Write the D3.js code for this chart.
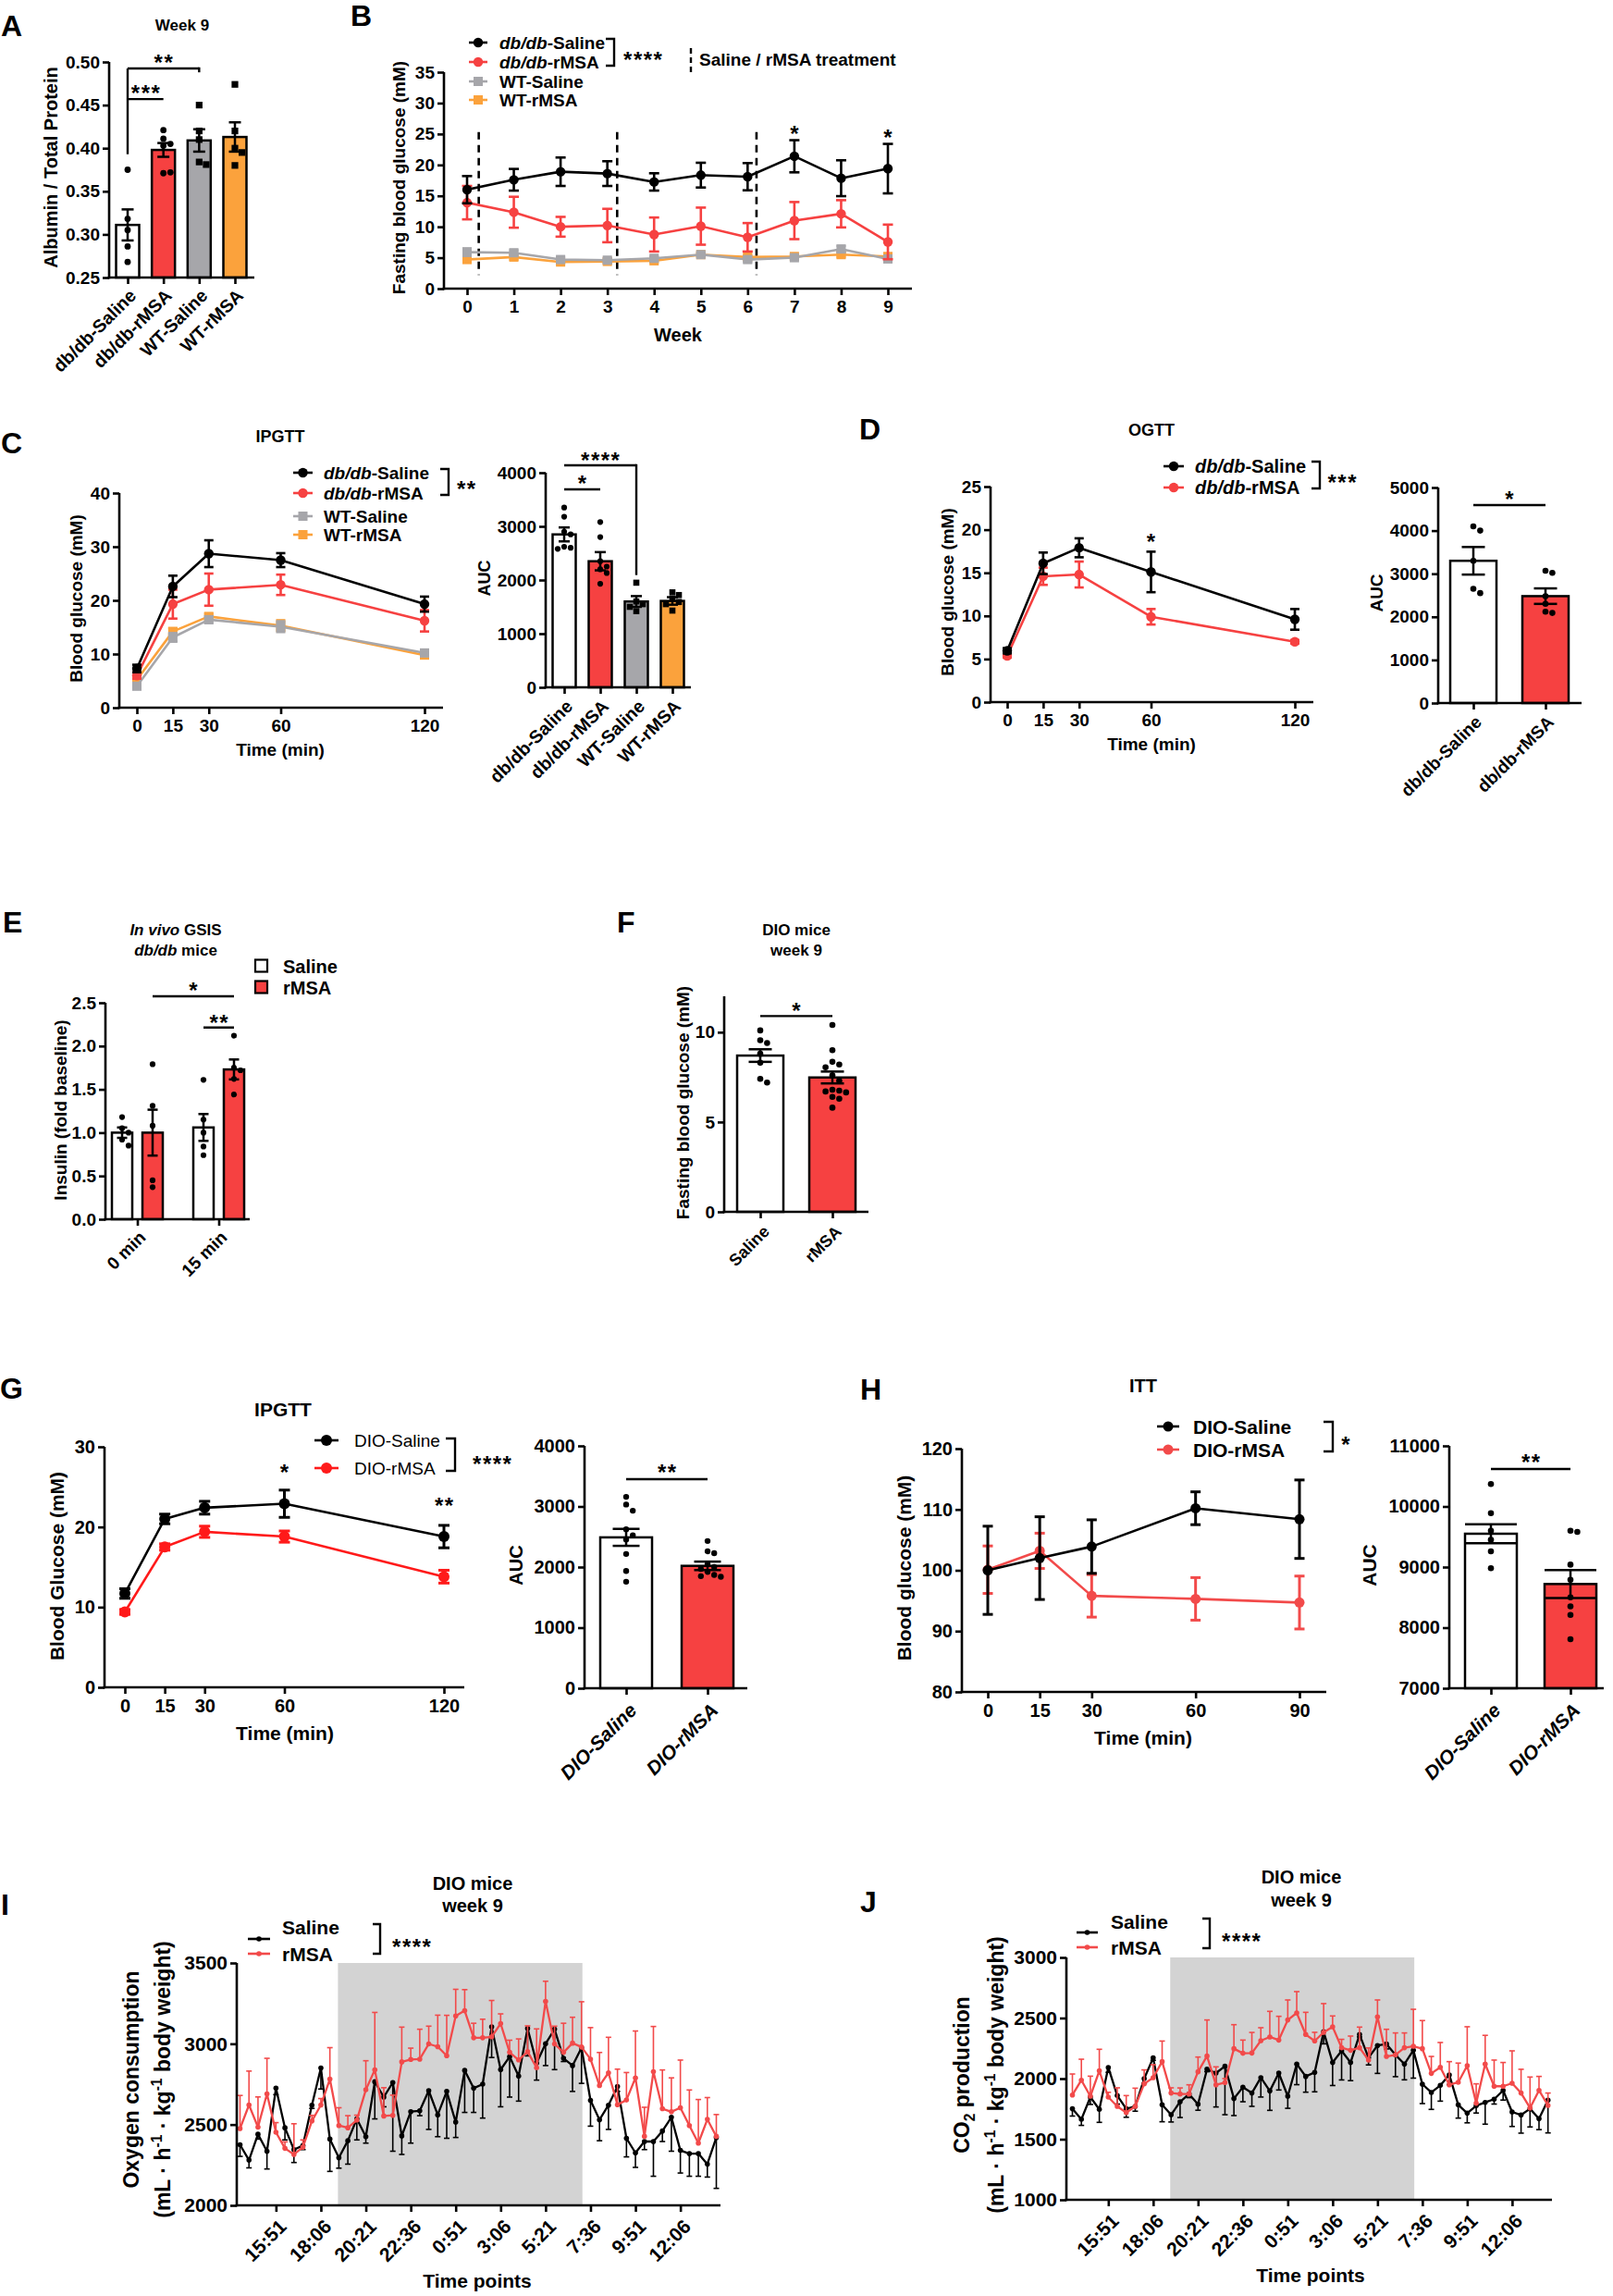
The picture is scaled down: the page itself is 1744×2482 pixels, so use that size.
<!DOCTYPE html>
<html><head><meta charset="utf-8"><title>Figure</title>
<script src="https://cdn.jsdelivr.net/npm/d3@7/dist/d3.min.js"></script>
<style>html,body{margin:0;padding:0;background:#fff}svg{display:block}</style>
</head><body>
<script>
// ================= DATA =================
// Panel A
const A_cats = ["db/db-Saline","db/db-rMSA","WT-Saline","WT-rMSA"];
const A_mean = [0.311,0.398,0.409,0.413];
const A_sem  = [0.018,0.008,0.013,0.017];
const A_pts  = [[0.375,0.318,0.305,0.286,0.268],[0.421,0.411,0.405,0.403,0.371,0.372],[0.450,0.420,0.410,0.384,0.381],[0.474,0.420,0.400,0.395,0.380]];
const A_yticks = [0.25,0.30,0.35,0.40,0.45,0.50];
// Panel B
const B_weeks = [0,1,2,3,4,5,6,7,8,9];
const B_dbSal = [16.0,17.6,18.9,18.6,17.25,18.35,18.1,21.4,17.85,19.4];
const B_dbSal_err = [2.2,1.75,2.3,2.0,1.4,2.0,2.2,2.6,2.9,4.0];
const B_dbRm = [13.9,12.35,10.0,10.2,8.75,10.1,8.3,11.0,12.1,7.55];
const B_dbRm_err = [2.7,2.5,1.6,2.7,2.75,3.0,2.3,3.0,2.2,2.8];
const B_wtSal = [5.9,5.8,4.7,4.6,4.9,5.5,4.7,5.0,6.4,4.8];
const B_wtSal_err = [0.6,0.4,0.4,0.3,0.3,0.3,0.4,0.3,0.5,0.3];
const B_wtRm = [4.7,5.1,4.3,4.4,4.5,5.5,5.1,5.2,5.5,5.2];
const B_wtRm_err = [0.4,0.4,0.3,0.3,0.3,0.3,0.3,0.3,0.4,0.3];
const B_treat = [0.25,3.21,6.19];
const B_yticks = [0,5,10,15,20,25,30,35];
// Panel C
const C_t = [0,15,30,60,120];
const C_dbSal = [7.3,22.6,28.7,27.5,19.3], C_dbSal_err = [0.7,2.0,2.5,1.3,1.4];
const C_dbRm = [6.0,19.3,22.0,22.9,16.2], C_dbRm_err = [0.6,2.7,3.0,1.9,2.0];
const C_wtSal = [4.0,13.1,16.4,15.1,10.2], C_wtSal_err = [0.5,0.8,0.6,1.0,0.4];
const C_wtRm = [5.2,14.2,17.0,15.3,9.8], C_wtRm_err = [0.4,0.6,0.5,1.0,0.3];
const C_auc_mean = [2850,2350,1600,1610];
const C_auc_sem = [130,170,100,70];
const C_auc_pts = [[3350,3180,2900,2850,2620,2600,2580],[3080,2800,2350,2250,2200,2130,1930],[1950,1600,1550,1500,1420],[1770,1720,1650,1590,1550,1430]];
// Panel D
const D_t = [0,15,30,60,120];
const D_dbSal = [5.96,16.1,17.9,15.1,9.6], D_dbSal_err = [0.3,1.25,1.1,2.35,1.2];
const D_dbRm = [5.36,14.6,14.8,9.9,7.0], D_dbRm_err = [0.2,1.0,1.5,0.9,0.2];
const D_auc_cats = ["db/db-Saline","db/db-rMSA"];
const D_auc_mean = [3300,2480], D_auc_sem = [320,180];
const D_auc_pts = [[4100,4000,3300,2650,2550],[3070,3020,2480,2300,2120,2090]];
// Panel E
const E_groups = ["0 min","15 min"];
const E_series = ["Saline","rMSA"];
const E_mean = [[1.0,1.0],[1.06,1.73]];
const E_sem = [[0.06,0.265],[0.155,0.115]];
const E_pts = [[[1.18,1.05,1.0,0.92,0.85],[1.79,1.31,1.08,0.45,0.37]],[[1.61,1.15,1.0,0.84,0.74],[2.12,1.75,1.72,1.62,1.44]]];
// Panel F
const F_cats = ["Saline","rMSA"];
const F_mean = [8.7,7.48], F_sem = [0.35,0.33];
const F_pts = [[10.1,9.55,9.4,8.8,8.3,7.4,7.2],[10.4,9.0,8.35,8.2,8.05,7.6,7.3,6.8,6.75,6.7,6.65,6.4,6.3,5.8]];
// Panel G
const G_t = [0,15,30,60,120];
const G_sal = [11.7,21.0,22.4,22.9,18.8], G_sal_err = [0.6,0.6,0.8,1.7,1.4];
const G_rm = [9.4,17.5,19.4,18.8,13.8], G_rm_err = [0.3,0.4,0.7,0.7,0.8];
const G_auc_cats = ["DIO-Saline","DIO-rMSA"];
const G_auc_mean = [2490,2020], G_auc_sem = [140,70];
const G_auc_pts = [[3159,3032,2930,2624,2522,2456,2216,1936,1758],[2430,2260,2230,2050,2000,1970,1920,1870,1850,1840]];
// Panel H
const H_t = [0,15,30,60,90];
const H_sal = [100,102.0,103.9,110.2,108.4], H_sal_err = [7.25,6.8,4.4,2.7,6.45];
const H_rm = [100.1,103.2,95.8,95.3,94.7], H_rm_err = [3.9,2.9,3.5,3.5,4.35];
const H_auc_mean = [9550,8720], H_auc_sem = [155,230];
const H_auc_pts = [[10370,9890,9600,9450,9260,8980],[9600,9580,9040,8790,8500,8350,8210,7810]];
// Panels I & J (54 time points, 27 min apart)
const IJ_tickIdx = [4,9,14,19,24,29,34,39,44,49];
const IJ_tickLab = ["15:51","18:06","20:21","22:36","0:51","3:06","5:21","7:36","9:51","12:06"];
const IJ_dark = [10.9,38.1];
const I_sal = [2375,2280,2440,2335,2725,2480,2345,2370,2620,2850,2410,2295,2400,2535,2425,2765,2670,2760,2430,2580,2585,2710,2560,2705,2515,2835,2725,2750,3105,2840,2920,2800,3095,2880,3000,3090,2910,2865,2975,2650,2530,2620,2735,2415,2325,2395,2395,2460,2545,2340,2320,2320,2255,2420];
const I_sal_err = [72,48,30,110,40,75,80,25,20,130,200,65,145,130,40,230,60,425,115,195,30,240,135,290,95,260,150,210,190,230,250,155,170,105,135,250,20,160,220,160,130,150,30,115,90,50,215,65,210,140,140,140,80,315];
const I_rm = [2475,2621,2484,2690,2452,2353,2315,2360,2522,2621,2781,2494,2480,2528,2715,2839,2553,2557,2888,2903,2905,2999,2982,2926,3172,3205,3037,3037,3043,3125,2947,2900,2951,2852,3262,2999,2947,3004,2980,2905,2741,2820,2623,2652,2789,2427,2827,2598,2579,2604,2494,2385,2532,2427];
const I_rm_err = [205,210,187,220,60,40,190,45,35,40,195,110,75,30,180,355,175,125,215,70,185,110,195,250,165,130,90,115,225,60,75,130,160,240,125,110,180,160,280,195,205,220,220,170,290,180,280,240,210,295,220,270,135,135];
const J_sal = [1751,1664,1847,1746,2092,1860,1751,1771,2000,2171,1784,1702,1809,1873,1789,2077,2046,2102,1835,1929,1881,2008,1898,2046,1855,2120,2018,2051,2387,2133,2229,2133,2364,2173,2273,2285,2196,2120,2234,1954,1886,1944,2031,1784,1715,1776,1804,1830,1903,1725,1700,1751,1669,1822];
const J_sal_err = [60,50,60,107,40,70,70,40,40,20,140,60,130,30,50,20,280,400,140,120,110,160,160,140,100,170,130,160,100,190,240,150,20,60,230,40,180,130,230,160,140,130,80,110,80,60,180,40,80,120,150,150,90,270];
const J_rm = [1865,1987,1855,2064,1847,1771,1720,1771,1957,2008,2140,1881,1873,1873,2056,2186,1949,1967,2247,2209,2211,2313,2344,2318,2484,2542,2364,2311,2382,2428,2255,2234,2255,2153,2509,2183,2196,2255,2267,2247,2043,2094,1949,1970,2107,1797,2120,1937,1937,1962,1881,1758,1903,1779];
const J_rm_err = [173,173,165,178,40,153,140,150,115,107,170,43,50,76,122,298,148,33,198,109,170,107,211,196,165,176,183,71,237,89,69,117,170,100,140,224,181,122,305,232,140,204,191,158,321,160,237,216,196,267,196,255,115,102];

// ================= STYLE / LAYOUT =================
const FONT = "'Liberation Sans', Arial, Helvetica, sans-serif";
const RED = "#F64141", GRAY = "#A6A6AA", ORANGE = "#FBA23C", REDG = "#FF1A1A", REDL = "#F24A4A", SHADE = "#D3D3D3";
const AXW = 2.6;

const svg = d3.select("body").append("svg").attr("width",1744).attr("height",2482)
  .attr("font-family",FONT).style("background","#fff");

function T(x,y,str,fs,o={}){
  const t = svg.append("text").attr("x",x).attr("y",y).attr("font-size",fs)
    .attr("font-weight",o.w||"bold").attr("text-anchor",o.a||"start").attr("fill","#000");
  if(o.it) t.attr("font-style","italic");
  if(o.ls) t.attr("letter-spacing",o.ls);
  t.text(str); return t;
}
function R(x,y,parts,fs,o={}){
  const t = svg.append("text").attr("x",x).attr("y",y).attr("font-size",fs)
    .attr("font-weight",o.w||"bold").attr("text-anchor",o.a||"start").attr("fill","#000");
  if(o.rot) t.attr("transform",`rotate(${o.rot},${x},${y})`);
  let shift = 0;
  parts.forEach(p=>{
    const s = t.append("tspan").text(p.t);
    const target = p.sup ? -0.42*fs : (p.sub ? 0.25*fs : 0);
    if(target!==shift){ s.attr("dy",target-shift); shift=target; }
    if(p.sup||p.sub) s.attr("font-size",fs*0.68);
    if(p.i) s.attr("font-style","italic");
  });
  return t;
}
function yLab(cx,cy,parts,fs){ return R(cx+0.36*fs,cy,parts,fs,{a:"middle",rot:-90}); }
function stars(cx,cy,str,fs=24){ return T(cx+0.75,cy+0.6*fs,str,fs,{a:"middle",ls:1.5}); }
function panelLabel(x,y,s){ T(x,y,s,32); }
function styleAxis(g,fs,w){
  g.attr("font-family",FONT).attr("font-size",fs).attr("font-weight",w||"bold");
  g.select(".domain").attr("stroke","#000").attr("stroke-width",AXW);
  g.selectAll(".tick line").attr("stroke","#000").attr("stroke-width",AXW);
  g.selectAll(".tick text").attr("fill","#000");
}
function yAxis(x0,y,ticks,fmt,fs){
  const g = svg.append("g").attr("transform",`translate(${x0},0)`)
    .call(d3.axisLeft(y).tickValues(ticks).tickFormat(fmt).tickSize(7).tickSizeOuter(0).tickPadding(3));
  styleAxis(g,fs);
  g.select(".domain").attr("d",`M0,${y.range()[0]+AXW/2}V${y.range()[1]}`);
  return g;
}
function xLine(x0,x1,yb){
  svg.append("line").attr("x1",x0-AXW/2).attr("x2",x1).attr("y1",yb).attr("y2",yb)
    .attr("stroke","#000").attr("stroke-width",AXW);
}
function xTicks(yb,x,ticks,fmt,fs,pad){
  const g = svg.append("g").attr("transform",`translate(0,${yb})`)
    .call(d3.axisBottom(x).tickValues(ticks).tickFormat(fmt).tickSize(7).tickSizeOuter(0).tickPadding(pad));
  styleAxis(g,fs); g.select(".domain").remove(); return g;
}
function rotTicks(yb,x,ticks,fmt,fs,off,italic){
  const g = xTicks(yb,x,ticks,fmt,fs,0);
  g.selectAll(".tick text").attr("x",0).attr("y",0).attr("dy","0.35em").attr("text-anchor","end")
    .attr("transform",`translate(${off[0]},${off[1]}) rotate(-45)`);
  if(italic) g.selectAll(".tick text").attr("font-style","italic");
  return g;
}
function bracket(x,y1,y2,w){
  svg.append("path").attr("d",`M${x-w},${y1}H${x}V${y2}H${x-w}`).attr("fill","none")
    .attr("stroke","#000").attr("stroke-width",2.4);
}
function hline(x1,x2,y){
  svg.append("line").attr("x1",x1).attr("x2",x2).attr("y1",y).attr("y2",y).attr("stroke","#000").attr("stroke-width",2.4);
}
function vline(x,y1,y2){
  svg.append("line").attr("x1",x).attr("x2",x).attr("y1",y1).attr("y2",y2).attr("stroke","#000").attr("stroke-width",2.4);
}
function swarm(vals,y,r){
  const placed=[]; const step=2*r+0.8;
  return vals.map(v=>{
    const py=y(v); let off=0;
    for(let k=0;k<40;k++){
      const o = k===0?0:(k%2?1:-1)*Math.ceil(k/2)*step;
      if(placed.every(p=>Math.hypot(p.x-o,p.y-py)>=2*r+0.4)){off=o;break;}
    }
    placed.push({x:off,y:py}); return off;
  });
}
function marker(g,cx,cy,shape,r,color){
  if(shape==="sq") g.append("rect").attr("x",cx-r).attr("y",cy-r).attr("width",2*r).attr("height",2*r).attr("fill",color);
  else g.append("circle").attr("cx",cx).attr("cy",cy).attr("r",r).attr("fill",color);
}
// bars with points & error bars
function drawBars(xc,y,base,means,sems,fills,pts,shapes,bw,cap,r){
  const g = svg.append("g");
  g.selectAll("rect.bar").data(means).join("rect").attr("class","bar")
    .attr("x",(m,i)=>xc[i]-bw/2).attr("y",m=>y(m)).attr("width",bw).attr("height",m=>y(base)-y(m))
    .attr("fill",(m,i)=>fills[i]).attr("stroke","#000").attr("stroke-width",2.5);
  means.forEach((m,i)=>{
    const offs = swarm(pts[i],y,r);
    const pg = svg.append("g");
    pts[i].forEach((v,j)=>marker(pg,xc[i]+offs[j],y(v),shapes[i],shapes[i]==="sq"?r+0.2:r,"#000"));
    const eg = svg.append("g").attr("stroke","#000").attr("stroke-width",2.5);
    eg.append("line").attr("x1",xc[i]).attr("x2",xc[i]).attr("y1",y(m-sems[i])).attr("y2",y(m+sems[i]));
    [m-sems[i],m+sems[i]].forEach(v=>eg.append("line").attr("x1",xc[i]-cap/2).attr("x2",xc[i]+cap/2).attr("y1",y(v)).attr("y2",y(v)));
  });
}
// line series
function drawSeries(x,y,xs,ys,errs,o){
  const g = svg.append("g");
  const eg = g.append("g").attr("stroke",o.color).attr("stroke-width",o.ew||2.6);
  ys.forEach((v,i)=>{
    const lo = o.mode==="up"? v : v-errs[i];
    const hi = o.mode==="down"? v : v+errs[i];
    eg.append("line").attr("x1",x(xs[i])).attr("x2",x(xs[i])).attr("y1",y(lo)).attr("y2",y(hi));
    const capv = o.mode==="up"?[hi]:(o.mode==="down"?[lo]:[lo,hi]);
    capv.forEach(c=>eg.append("line").attr("x1",x(xs[i])-o.cap/2).attr("x2",x(xs[i])+o.cap/2).attr("y1",y(c)).attr("y2",y(c)));
  });
  g.append("path").datum(ys).attr("fill","none").attr("stroke",o.color).attr("stroke-width",o.lw||2.6)
    .attr("stroke-linejoin","round")
    .attr("d",d3.line().x((d,i)=>x(xs[i])).y(d=>y(d)));
  const mg = g.append("g");
  ys.forEach((v,i)=>marker(mg,x(xs[i]),y(v),o.shape,o.r,o.color));
}
function legendRow(xl0,xl1,y,color,shape,r,tx,parts,fs,w,ty){
  svg.append("line").attr("x1",xl0).attr("x2",xl1).attr("y1",y).attr("y2",y).attr("stroke",color).attr("stroke-width",2.6);
  marker(svg,(xl0+xl1)/2,y,shape,r,color);
  R(tx,(ty!==undefined?ty:y)+0.36*fs,parts,fs,{w:w});
}

// ================= PANEL A =================
{
  const f={x0:118,x1:275,yT:67,yB:300};
  panelLabel(1,39,"A");
  T(197,33,"Week 9",17,{a:"middle"});
  const y=d3.scaleLinear().domain([0.25,0.50]).range([f.yB,f.yT]);
  const x=d3.scalePoint().domain(A_cats).range([138,254]);
  drawBars(A_cats.map(x),y,0.25,A_mean,A_sem,["#fff",RED,GRAY,ORANGE],A_pts,["c","c","sq","sq"],25,13,3.4);
  yAxis(f.x0,y,A_yticks,d3.format(".2f"),19);
  xLine(f.x0,f.x1,f.yB);
  rotTicks(f.yB,x,A_cats,d=>d,19.5,[5,16]);
  yLab(55,181,[{t:"Albumin / Total Protein"}],20);
  vline(x(A_cats[0]),y(0.4925),y(0.393));
  hline(x(A_cats[0]),x(A_cats[2]),y(0.4925));
  vline(x(A_cats[2]),y(0.4925)-1.2,y(0.488));
  hline(x(A_cats[0]),x(A_cats[1]),y(0.457));
  stars((x(A_cats[0])+x(A_cats[2]))/2,y(0.4925)-12,"**");
  stars((x(A_cats[0])+x(A_cats[1]))/2,y(0.457)-12,"***");
}

// ================= PANEL B =================
{
  const f={x0:480,x1:986,yT:78,yB:312};
  panelLabel(379,28,"B");
  const y=d3.scaleLinear().domain([0,35]).range([f.yB,f.yT]);
  const x=d3.scaleLinear().domain([0,9]).range([505,960]);
  B_treat.forEach(w=>svg.append("line").attr("x1",x(w)).attr("x2",x(w)).attr("y1",y(25.3)).attr("y2",y(2.2))
    .attr("stroke","#000").attr("stroke-width",2.6).attr("stroke-dasharray","8,6"));
  drawSeries(x,y,B_weeks,B_wtRm,B_wtRm_err,{color:ORANGE,shape:"sq",r:5,cap:10,mode:"both"});
  drawSeries(x,y,B_weeks,B_wtSal,B_wtSal_err,{color:GRAY,shape:"sq",r:5,cap:10,mode:"both"});
  drawSeries(x,y,B_weeks,B_dbRm,B_dbRm_err,{color:RED,shape:"c",r:5.2,cap:11,mode:"both"});
  drawSeries(x,y,B_weeks,B_dbSal,B_dbSal_err,{color:"#000",shape:"c",r:5.2,cap:11,mode:"both"});
  yAxis(f.x0,y,B_yticks,d3.format("d"),19);
  xLine(f.x0,f.x1,f.yB);
  xTicks(f.yB,x,B_weeks,d3.format("d"),19,6);
  T(733,369,"Week",20,{a:"middle"});
  yLab(431,192,[{t:"Fasting blood glucose (mM)"}],19);
  stars(x(7),y(26),"*");
  stars(x(9),y(25.3),"*");
  legendRow(507,527,46,"#000","c",5.2,540,[{t:"db/db",i:1},{t:"-Saline"}],19);
  legendRow(507,527,67,RED,"c",5.2,540,[{t:"db/db",i:1},{t:"-rMSA"}],19);
  legendRow(507,527,88,GRAY,"sq",5,540,[{t:"WT-Saline"}],19);
  legendRow(507,527,108,ORANGE,"sq",5,540,[{t:"WT-rMSA"}],19);
  bracket(664,42,71,9);
  stars(695,59,"****");
  svg.append("line").attr("x1",747).attr("x2",747).attr("y1",52).attr("y2",82).attr("stroke","#000").attr("stroke-width",2.4).attr("stroke-dasharray","6,4");
  T(756,71,"Saline / rMSA treatment",19);
}

// ================= PANEL C =================
{
  const f={x0:129,x1:479,yT:533,yB:765};
  panelLabel(1,490,"C");
  T(303,478,"IPGTT",18,{a:"middle"});
  const y=d3.scaleLinear().domain([0,40]).range([f.yB,f.yT]);
  const x=d3.scaleLinear().domain([0,120]).range([148,459]);
  drawSeries(x,y,C_t,C_wtRm,C_wtRm_err,{color:ORANGE,shape:"sq",r:5,cap:10,mode:"both"});
  drawSeries(x,y,C_t,C_wtSal,C_wtSal_err,{color:GRAY,shape:"sq",r:5,cap:10,mode:"both"});
  drawSeries(x,y,C_t,C_dbRm,C_dbRm_err,{color:RED,shape:"c",r:5.2,cap:10,mode:"both"});
  drawSeries(x,y,C_t,C_dbSal,C_dbSal_err,{color:"#000",shape:"c",r:5.2,cap:10,mode:"both"});
  yAxis(f.x0,y,[0,10,20,30,40],d3.format("d"),19);
  xLine(f.x0,f.x1,f.yB);
  xTicks(f.yB,x,C_t,d3.format("d"),19,6);
  T(303,817,"Time (min)",19,{a:"middle"});
  yLab(82,647,[{t:"Blood glucose (mM)"}],19);
  const rows=[511,533,558,578];
  legendRow(317,338,rows[0],"#000","c",5.2,350,[{t:"db/db",i:1},{t:"-Saline"}],19);
  legendRow(317,338,rows[1],RED,"c",5.2,350,[{t:"db/db",i:1},{t:"-rMSA"}],19);
  legendRow(317,338,rows[2],GRAY,"sq",5,350,[{t:"WT-Saline"}],19);
  legendRow(317,338,rows[3],ORANGE,"sq",5,350,[{t:"WT-rMSA"}],19);
  bracket(485,507,535,9);
  stars(504,523,"**");
}
// ----- C AUC -----
{
  const f={x0:590,x1:747,yT:511,yB:743};
  const y=d3.scaleLinear().domain([0,4000]).range([f.yB,f.yT]);
  const x=d3.scalePoint().domain(A_cats).range([610,727]);
  drawBars(A_cats.map(x),y,0,C_auc_mean,C_auc_sem,["#fff",RED,GRAY,ORANGE],C_auc_pts,["c","c","sq","sq"],25,12,3.1);
  yAxis(f.x0,y,[0,1000,2000,3000,4000],d3.format("d"),19);
  xLine(f.x0,f.x1,f.yB);
  rotTicks(f.yB,x,A_cats,d=>d,19.5,[5,17]);
  yLab(524,625,[{t:"AUC"}],18);
  hline(x(A_cats[0]),x(A_cats[1]),y(3690));
  stars((x(A_cats[0])+x(A_cats[1]))/2,y(3690)-12,"*");
  hline(x(A_cats[0]),x(A_cats[2]),y(4138));
  vline(x(A_cats[2]),y(4138)-1.2,y(2092));
  stars((x(A_cats[0])+x(A_cats[2]))/2,y(4138)-11,"****");
}

// ================= PANEL D =================
{
  const f={x0:1071,x1:1420,yT:526,yB:759};
  panelLabel(929,475,"D");
  T(1245,471,"OGTT",18,{a:"middle"});
  const y=d3.scaleLinear().domain([0,25]).range([f.yB,f.yT]);
  const x=d3.scaleLinear().domain([0,120]).range([1089,1400]);
  drawSeries(x,y,D_t,D_dbRm,D_dbRm_err,{color:RED,shape:"c",r:5.2,cap:10,mode:"both"});
  drawSeries(x,y,D_t,D_dbSal,D_dbSal_err,{color:"#000",shape:"c",r:5.2,cap:10,mode:"both"});
  yAxis(f.x0,y,[0,5,10,15,20,25],d3.format("d"),19);
  xLine(f.x0,f.x1,f.yB);
  xTicks(f.yB,x,D_t,d3.format("d"),19,6);
  T(1245,811,"Time (min)",19,{a:"middle"});
  yLab(1024,640,[{t:"Blood glucose (mM)"}],19);
  stars(x(60),y(19.3),"*");
  legendRow(1258,1280,504,"#000","c",5.2,1292,[{t:"db/db",i:1},{t:"-Saline"}],20);
  legendRow(1258,1280,527,RED,"c",5.2,1292,[{t:"db/db",i:1},{t:"-rMSA"}],20);
  bracket(1427,499,528,9);
  stars(1451,516,"***");
}
// ----- D AUC -----
{
  const f={x0:1555,x1:1710,yT:527,yB:760};
  const y=d3.scaleLinear().domain([0,5000]).range([f.yB,f.yT]);
  const x=d3.scalePoint().domain(D_auc_cats).range([1593,1671]);
  drawBars(D_auc_cats.map(x),y,0,D_auc_mean,D_auc_sem,["#fff",RED],D_auc_pts,["c","c"],50,25,3.3);
  yAxis(f.x0,y,[0,1000,2000,3000,4000,5000],d3.format("d"),19);
  xLine(f.x0,f.x1,f.yB);
  rotTicks(f.yB,x,D_auc_cats,d=>d,19,[5,17]);
  yLab(1488,641,[{t:"AUC"}],19);
  hline(x(D_auc_cats[0]),x(D_auc_cats[1]),y(4592));
  stars((x(D_auc_cats[0])+x(D_auc_cats[1]))/2,y(4592)-12,"*");
}

// ================= PANEL E =================
{
  const f={x0:114,x1:270,yT:1084,yB:1318};
  panelLabel(3,1008,"E");
  R(190,1011,[{t:"In vivo",i:1},{t:" GSIS"}],17,{a:"middle"});
  R(190,1033,[{t:"db/db",i:1},{t:" mice"}],17,{a:"middle"});
  const y=d3.scaleLinear().domain([0,2.5]).range([f.yB,f.yT]);
  const xg=d3.scalePoint().domain(E_groups).range([148.5,236.5]);
  const xi=d3.scalePoint().domain(E_series).range([-16.5,16.5]);
  const xc=[], means=[], sems=[], pts=[], fills=[];
  E_groups.forEach((gname,gi)=>E_series.forEach((s,si)=>{
    xc.push(xg(gname)+xi(s)); means.push(E_mean[gi][si]); sems.push(E_sem[gi][si]); pts.push(E_pts[gi][si]); fills.push(si?RED:"#fff");
  }));
  drawBars(xc,y,0,means,sems,fills,pts,["c","c","c","c"],22,11,3.1);
  yAxis(f.x0,y,[0,0.5,1.0,1.5,2.0,2.5],d3.format(".1f"),19);
  xLine(f.x0,f.x1,f.yB);
  rotTicks(f.yB,xg,E_groups,d=>d,19,[5,16]);
  yLab(65,1200,[{t:"Insulin (fold baseline)"}],19);
  hline(xg("0 min")+xi("rMSA"),xg("15 min")+xi("rMSA"),y(2.575));
  stars((xg("0 min")+xg("15 min"))/2+xi("rMSA"),y(2.575)-12,"*");
  hline(xg("15 min")+xi("Saline"),xg("15 min")+xi("rMSA"),y(2.215));
  stars(xg("15 min"),y(2.215)-11,"**");
  [["Saline","#fff",1044],["rMSA",RED,1067]].forEach(d=>{
    svg.append("rect").attr("x",276).attr("y",d[2]-6.5).attr("width",13).attr("height",13).attr("fill",d[1]).attr("stroke","#000").attr("stroke-width",2.2);
    T(306,d[2]+7.5,d[0],20);
  });
}

// ================= PANEL F =================
{
  const f={x0:783,x1:939,yT:1077,yB:1310};
  panelLabel(667,1008,"F");
  T(861,1011,"DIO mice",17,{a:"middle"});
  T(861,1033,"week 9",17,{a:"middle"});
  const y=d3.scaleLinear().domain([0,12]).range([f.yB,f.yT]);
  const x=d3.scalePoint().domain(F_cats).range([822,900]);
  drawBars(F_cats.map(x),y,0,F_mean,F_sem,["#fff",RED],F_pts,["c","c"],50,25,3.3);
  yAxis(f.x0,y,[0,5,10],d3.format("d"),19);
  xLine(f.x0,f.x1,f.yB);
  rotTicks(f.yB,x,F_cats,d=>d,18,[6,18]);
  yLab(738,1192,[{t:"Fasting blood glucose (mM)"}],19);
  hline(x("Saline"),x("rMSA"),y(10.9));
  stars((x("Saline")+x("rMSA"))/2,y(10.9)-12,"*");
}

// ================= PANEL G =================
{
  const f={x0:113,x1:502,yT:1564,yB:1824};
  panelLabel(0,1512,"G");
  T(306,1531,"IPGTT",21,{a:"middle"});
  const y=d3.scaleLinear().domain([0,30]).range([f.yB,f.yT]);
  const x=d3.scaleLinear().domain([0,120]).range([135,480]);
  drawSeries(x,y,G_t,G_rm,G_rm_err,{color:REDG,shape:"c",r:6,cap:12,mode:"both",ew:3});
  drawSeries(x,y,G_t,G_sal,G_sal_err,{color:"#000",shape:"c",r:6,cap:12,mode:"both",ew:3});
  yAxis(f.x0,y,[0,10,20,30],d3.format("d"),20);
  xLine(f.x0,f.x1,f.yB);
  xTicks(f.yB,x,G_t,d3.format("d"),20,6);
  T(308,1881,"Time (min)",21,{a:"middle"});
  yLab(61,1693,[{t:"Blood Glucose (mM)"}],21);
  stars(x(60),y(27.5),"*");
  stars(x(120),y(23.3),"**");
  legendRow(340,366,1557,"#000","c",6,383,[{t:"DIO-Saline"}],19,"normal");
  legendRow(340,366,1587,REDG,"c",6,383,[{t:"DIO-rMSA"}],19,"normal");
  bracket(492,1555,1590,10);
  stars(532,1577,"****");
}
// ----- G AUC -----
{
  const f={x0:632,x1:808,yT:1563,yB:1825};
  const y=d3.scaleLinear().domain([0,4000]).range([f.yB,f.yT]);
  const x=d3.scalePoint().domain(G_auc_cats).range([677,765]);
  drawBars(G_auc_cats.map(x),y,0,G_auc_mean,G_auc_sem,["#fff",RED],G_auc_pts,["c","c"],56,29,3.2);
  yAxis(f.x0,y,[0,1000,2000,3000,4000],d3.format("d"),20);
  xLine(f.x0,f.x1,f.yB);
  rotTicks(f.yB,x,G_auc_cats,d=>d,21,[7,20],true);
  yLab(558,1692,[{t:"AUC"}],20);
  hline(x(G_auc_cats[0]),x(G_auc_cats[1]),y(3450));
  stars((x(G_auc_cats[0])+x(G_auc_cats[1]))/2,y(3450)-13,"**");
}

// ================= PANEL H =================
{
  const f={x0:1040,x1:1434,yT:1566,yB:1829};
  panelLabel(930,1513,"H");
  T(1236,1505,"ITT",20,{a:"middle"});
  const y=d3.scaleLinear().domain([80,120]).range([f.yB,f.yT]);
  const x=d3.scaleLinear().domain([0,90]).range([1068,1405]);
  drawSeries(x,y,H_t,H_rm,H_rm_err,{color:REDL,shape:"c",r:5.5,cap:11,mode:"both",ew:3});
  drawSeries(x,y,H_t,H_sal,H_sal_err,{color:"#000",shape:"c",r:5.5,cap:11,mode:"both",ew:3});
  yAxis(f.x0,y,[80,90,100,110,120],d3.format("d"),20);
  xLine(f.x0,f.x1,f.yB);
  xTicks(f.yB,x,H_t,d3.format("d"),20,6);
  T(1236,1886,"Time (min)",21,{a:"middle"});
  yLab(977,1695,[{t:"Blood glucose (mM)"}],21);
  legendRow(1251,1275,1542,"#000","c",5.5,1290,[{t:"DIO-Saline"}],21);
  legendRow(1251,1275,1567,REDL,"c",5.5,1290,[{t:"DIO-rMSA"}],21);
  bracket(1441,1537,1569,10);
  stars(1455,1556,"*");
}
// ----- H AUC -----
{
  const f={x0:1567,x1:1734,yT:1563,yB:1825};
  const y=d3.scaleLinear().domain([7000,11000]).range([f.yB,f.yT]);
  const x=d3.scalePoint().domain(G_auc_cats).range([1612,1698]);
  drawBars(G_auc_cats.map(x),y,7000,H_auc_mean,H_auc_sem,["#fff",RED],H_auc_pts,["c","c"],56,56,3.3);
  yAxis(f.x0,y,[7000,8000,9000,10000,11000],d3.format("d"),20);
  xLine(f.x0,f.x1,f.yB);
  rotTicks(f.yB,x,G_auc_cats,d=>d,21,[6,20],true);
  yLab(1480,1692,[{t:"AUC"}],21);
  hline(x(G_auc_cats[0]),x(G_auc_cats[1]),y(10618));
  stars((x(G_auc_cats[0])+x(G_auc_cats[1]))/2,y(10618)-13,"**");
}

// ================= PANELS I & J =================
function ijPanel(f,letter,lp,title,tx,tys,dom,ticks,sal,salErr,rm,rmErr,lab1,lab2,l1x,l2x,lcy,leg,tpx,tpy){
  panelLabel(lp[0],lp[1],letter);
  T(tx,tys[0],title[0],20,{a:"middle"});
  T(tx,tys[1],title[1],20,{a:"middle"});
  const y=d3.scaleLinear().domain(dom).range([f.yB,f.yT]);
  const idx=d3.range(sal.length);
  const x=d3.scaleLinear().domain([0,sal.length-1]).range([f.p0,f.p1]);
  svg.append("rect").attr("x",x(IJ_dark[0])).attr("y",y(dom[1])).attr("width",x(IJ_dark[1])-x(IJ_dark[0]))
    .attr("height",y(dom[0])-y(dom[1])).attr("fill",SHADE);
  drawSeries(x,y,idx,sal,salErr,{color:"#000",shape:"c",r:2.8,cap:6,mode:"down",ew:1.6,lw:2.3});
  drawSeries(x,y,idx,rm,rmErr,{color:REDL,shape:"c",r:2.8,cap:6,mode:"up",ew:1.6,lw:2.3});
  yAxis(f.x0,y,ticks,d3.format("d"),21);
  xLine(f.x0,f.x1,f.yB);
  rotTicks(f.yB,x,IJ_tickIdx,(d,i)=>IJ_tickLab[i],21,[7,19]);
  T(tpx,tpy,"Time points",21,{a:"middle"});
  yLab(l1x,lcy,lab1,23);
  yLab(l2x,lcy,lab2,23);
  legendRow(leg.l0,leg.l1,leg.y1,"#000","c",2.8,leg.tx,[{t:"Saline"}],21,"bold",leg.t1);
  legendRow(leg.l0,leg.l1,leg.y2,REDL,"c",2.8,leg.tx,[{t:"rMSA"}],21,"bold",leg.t2);
  bracket(leg.bx,leg.b1,leg.b2,8);
  stars(leg.sx,leg.sy,"****");
}
const unitLab=[{t:"(mL · h"},{t:"-1",sup:1},{t:" · kg"},{t:"-1",sup:1},{t:" body weight)"}];
ijPanel({x0:256,x1:779,yT:2122,yB:2384,p0:259.5,p1:774.5},"I",[1,2070],["DIO mice","week 9"],511,[2043,2067],
  [2000,3500],[2000,2500,3000,3500],I_sal,I_sal_err,I_rm,I_rm_err,
  [{t:"Oxygen consumption"}],unitLab,142,176,2248,
  {l0:268,l1:292,y1:2096,y2:2112,tx:305,t1:2083,t2:2112,bx:411,b1:2080,b2:2112,sx:445,sy:2099},516,2473);
ijPanel({x0:1153,x1:1678,yT:2116,yB:2378,p0:1159.5,p1:1673.7},"J",[930,2067],["DIO mice","week 9"],1407,[2036,2061],
  [1000,3000],[1000,1500,2000,2500,3000],J_sal,J_sal_err,J_rm,J_rm_err,
  [{t:"CO"},{t:"2",sub:1},{t:" production"}],unitLab,1040,1077,2243,
  {l0:1164,l1:1187,y1:2089,y2:2105,tx:1201,t1:2077,t2:2105,bx:1308,b1:2074,b2:2106,sx:1342,sy:2093},1417,2467);
</script>
</body></html>
